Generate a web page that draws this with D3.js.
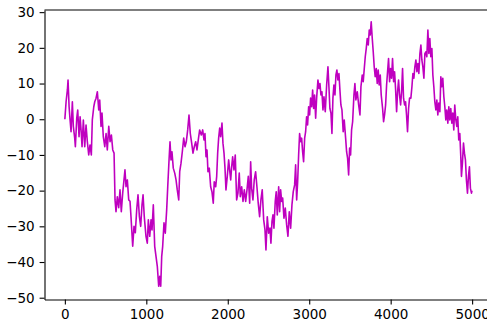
<!DOCTYPE html>
<html>
<head>
<meta charset="utf-8">
<script src="https://cdn.jsdelivr.net/npm/d3@7"></script>
<style>
  html, body { margin: 0; padding: 0; background: #fff; }
  svg { display: block; }
</style>
</head>
<body>
<svg id="chart" width="487" height="322"></svg>
<script>
// tick labels
const xTicks = [0, 1000, 2000, 3000, 4000, 5000];
const yTicks = [30, 20, 10, 0, -10, -20, -30, -40, -50];

// sample index of each point (walk length 5000)
const steps = [
  0,15,31,39,52,64,76,92,104,121,129,146,158,174,187,199,211,227,244,260,276,293,309,325,337,355,367,383,399,416,428,444,456,472,490,506,521,539,555,571,588,604,
  616,628,644,661,677,693,710,726,738,751,767,784,800,
  812,833,849,865,882,898,915,931,947,960,975,996,1012,1025,1042,1058,1070,1086,1103,1119,1135,1152,1165,1177,1189,1201,1217,1233,1250,1263,1279,1291,1303,1315,1331,1349,1365,1380,1398,1410,1426,1442,1459,1475,1491,1508,1524,1540,1557,1573,1589,1606,1622,1638,1655,
  1675,1692,1708,1720,1733,1745,1757,1773,1790,1806,1822,1834,1852,1864,1876,1888,1901,1913,1929,1941,1954,1966,1978,1994,2011,2023,2036,2048,2060,2076,2092,2109,2125,2141,2154,2171,2187,2203,2220,2236,2252,2269,2281,2293,2309,2325,2342,2358,2374,2391,2407,2423,2441,2457,2469,2485,2502,
  2518,2530,2543,2555,2567,2583,2595,2608,2625,2637,2649,2662,2674,2690,2706,2723,2739,2755,2772,2788,2804,2821,2833,2846,2858,2870,2882,2895,2907,2919,2931,2944,2956,2968,2980,2993,3005,3017,3030,3042,3054,3066,3079,3091,3107,3120,3132,3144,3156,3169,3181,3197,3214,3230,3242,3254,3267,3279,3291,3303,3316,3328,3340,3352,3365,3377,3389,3402,
  3417,3430,3447,3459,3471,3484,3496,3508,3520,3533,3549,3561,3573,3590,3607,3623,3635,3651,3663,3676,3688,3700,3712,3725,3737,3749,3761,3774,3786,3798,3810,3823,3835,3847,3859,3872,3884,3901,3913,3925,3938,3950,3962,3974,3987,3999,4011,4023,4036,4048,4060,4073,4085,4097,4109,4122,4134,4146,4158,4171,4183,4195,4207,4220,4232,
  4248,4261,4273,4285,4297,4310,4322,4334,4346,4359,4371,4383,4395,4408,4420,4432,4444,4457,4469,4481,4493,4506,4518,4530,4542,4555,4567,4579,4591,4604,4616,4628,4640,4653,4665,4677,4689,4702,4714,4726,4738,4751,4763,4775,4787,4800,4812,4824,4836,4849,4861,4869,4881,4894,4906,4918,4930,4943,4955,4967,4979,4992,4999
];

// walk value at each of those indices
const walk = [
  0,4.9,8.2,11,3.5,-0.2,-3.5,4.9,-2,-5.3,-7.7,0.3,2.6,-4.9,0.7,-3,-7.7,-0.2,-7.7,-1.6,-6.3,-10,-7.2,-10,-0.2,3.5,4.9,5.9,7.7,2.6,5.4,-2,1.7,-4.9,-7.7,-4,-8.6,-2,-6.3,-4.4,-8.6,-9.5,
  -22.6,-25.9,-21.7,-24.8,-19.8,-25.9,-20.7,-17,-14.2,-18.9,-17,-22.6,-23,
  -27.3,-35.6,-30,-31.8,-25.4,-21.2,-27.3,-30,-24,-21.2,-27.3,-32.8,-34.7,-28.2,-32.8,-28.2,-31,-24,-35.6,-38.4,-41.2,-46.8,-44,-46.8,-38.4,-35.6,-29,-31.9,-25.4,-18.9,-11.4,-6.3,-11.4,-9.1,-13.7,-15.1,-17,-19.8,-22.6,-14.7,-12.3,-9.1,-5.3,-7.7,-6.3,-3,1.2,-4,-6.7,-9.5,-7.7,-6.3,-8.6,-5.8,-3,
  -4.4,-3,-5.8,-4,-10.5,-8.6,-14.7,-13.7,-18.9,-20.3,-23.5,-17.5,-18.9,-16,-9.5,-5.3,-2.5,-4.9,-1.1,-6.7,-9.5,-13.7,-19.8,-16,-11.4,-14.2,-17,-13.3,-10.5,-14.2,-10,-22.6,-20.7,-15.1,-21.7,-18.9,-23,-19.8,-23,-19.8,-16,-23.5,-11.9,-19.3,-22.6,-17,-14.7,-18.9,-23.5,-27.3,-22.6,-19.8,-28.2,-31,-36.6,-27.3,-31.9,
  -30.5,-34.7,-28.6,-26.8,-30.5,-23,-20.3,-26.8,-18.9,-25.9,-19.8,-23,-22.1,-27.7,-24.9,-29.6,-32.8,-25.9,-30.5,-24,-20.3,-18.4,-12.8,-22.6,-17.5,-10,-4,-6.3,-5.3,-9.1,-11.9,-5.3,-3.5,0.7,-1.6,3.5,1.2,5.9,3.5,8.2,3,6.8,0.3,5.9,11,8.6,10,6.8,7.7,2.6,6.3,2.1,9.6,14.7,9.1,3,1.7,-4,5.9,9.6,6.8,12.4,13.8,11,12.8,8.2,4,2.6,
  -3.5,-0.2,-5.3,-9.1,-10.9,-15.6,-8.1,-10,-3,-0.7,6.8,10,5.4,7.7,4,1.2,9.1,12.4,10.5,14.2,17.5,19.8,22.6,20.8,25,23.6,27.3,22.6,18.9,14.7,11.9,14.2,10,13.8,9.6,12.4,6.8,3,-0.7,1.2,4,9.6,13.3,17,10.5,14.2,11.5,17,10.5,13.3,8.6,2.1,7.7,11,6.8,4,7.7,14.2,5.9,4,4.9,1.2,-3.5,3,5.9,
  5.9,9.1,12.8,11.5,14.7,16.6,13.3,15.6,12.8,18.4,20.8,16.6,14.7,11.5,18.4,18.9,17.5,25,18.4,22.6,17.5,19.8,12.4,9.1,4.9,2.6,5.4,1.2,4.5,2.1,11.9,9.1,11.5,6.3,3.5,-0.2,2.6,-1.1,3.5,-0.2,3,-1.1,1.7,-3,4,-0.2,-2,0.7,-5.8,-4,-10.5,-16,-12.3,-6.7,-9.5,-11.4,-17,-20.7,-16,-13.3,-19.3,-20.7,-20
];

const width = 487, height = 322;
const plotLeft = 44.5, plotRight = 492.4, plotTop = 10, plotBottom = 299.5;

const svg = d3.select("#chart")
  .attr("font-family", "DejaVu Sans, sans-serif");

svg.append("rect").attr("width", width).attr("height", height).attr("fill", "#fff");

// matplotlib style limits: data range plus 5% margins
const x = d3.scaleLinear().domain([-250, 5249]).range([plotLeft, plotRight]);
const y = d3.scaleLinear().domain([-50.5, 30.6]).range([plotBottom, plotTop]);

const points = d3.zip(steps, walk);

const line = d3.line()
  .x(d => x(d[0]))
  .y(d => y(d[1]));

svg.append("path")
  .datum(points)
  .attr("fill", "none")
  .attr("stroke", "#bf00bf")
  .attr("stroke-width", 1.6)
  .attr("stroke-linejoin", "round")
  .attr("d", line);

// top spine (right spine falls outside the window)
svg.append("line")
  .attr("x1", plotLeft).attr("x2", plotRight)
  .attr("y1", plotTop).attr("y2", plotTop)
  .attr("stroke", "#000").attr("stroke-width", 1.1);

const xAxis = svg.append("g")
  .attr("transform", `translate(0,${plotBottom})`)
  .call(d3.axisBottom(x).tickValues(xTicks).tickSize(4.9).tickSizeOuter(0).tickPadding(4.9)
    .tickFormat(d3.format("d")));

const yAxis = svg.append("g")
  .attr("transform", `translate(${plotLeft},0)`)
  .call(d3.axisLeft(y).tickValues(yTicks).tickSize(4.9).tickSizeOuter(0).tickPadding(4.9)
    .tickFormat(d => d < 0 ? "\u2212" + Math.abs(d) : String(d)));

[xAxis, yAxis].forEach(g => {
  g.attr("font-family", "DejaVu Sans, sans-serif").attr("font-size", 13.5);
  g.select(".domain").attr("stroke", "#000").attr("stroke-width", 1.1);
  g.selectAll(".tick line").attr("stroke", "#000").attr("stroke-width", 1.1);
  g.selectAll(".tick text").attr("fill", "#000");
});
</script>
</body>
</html>
